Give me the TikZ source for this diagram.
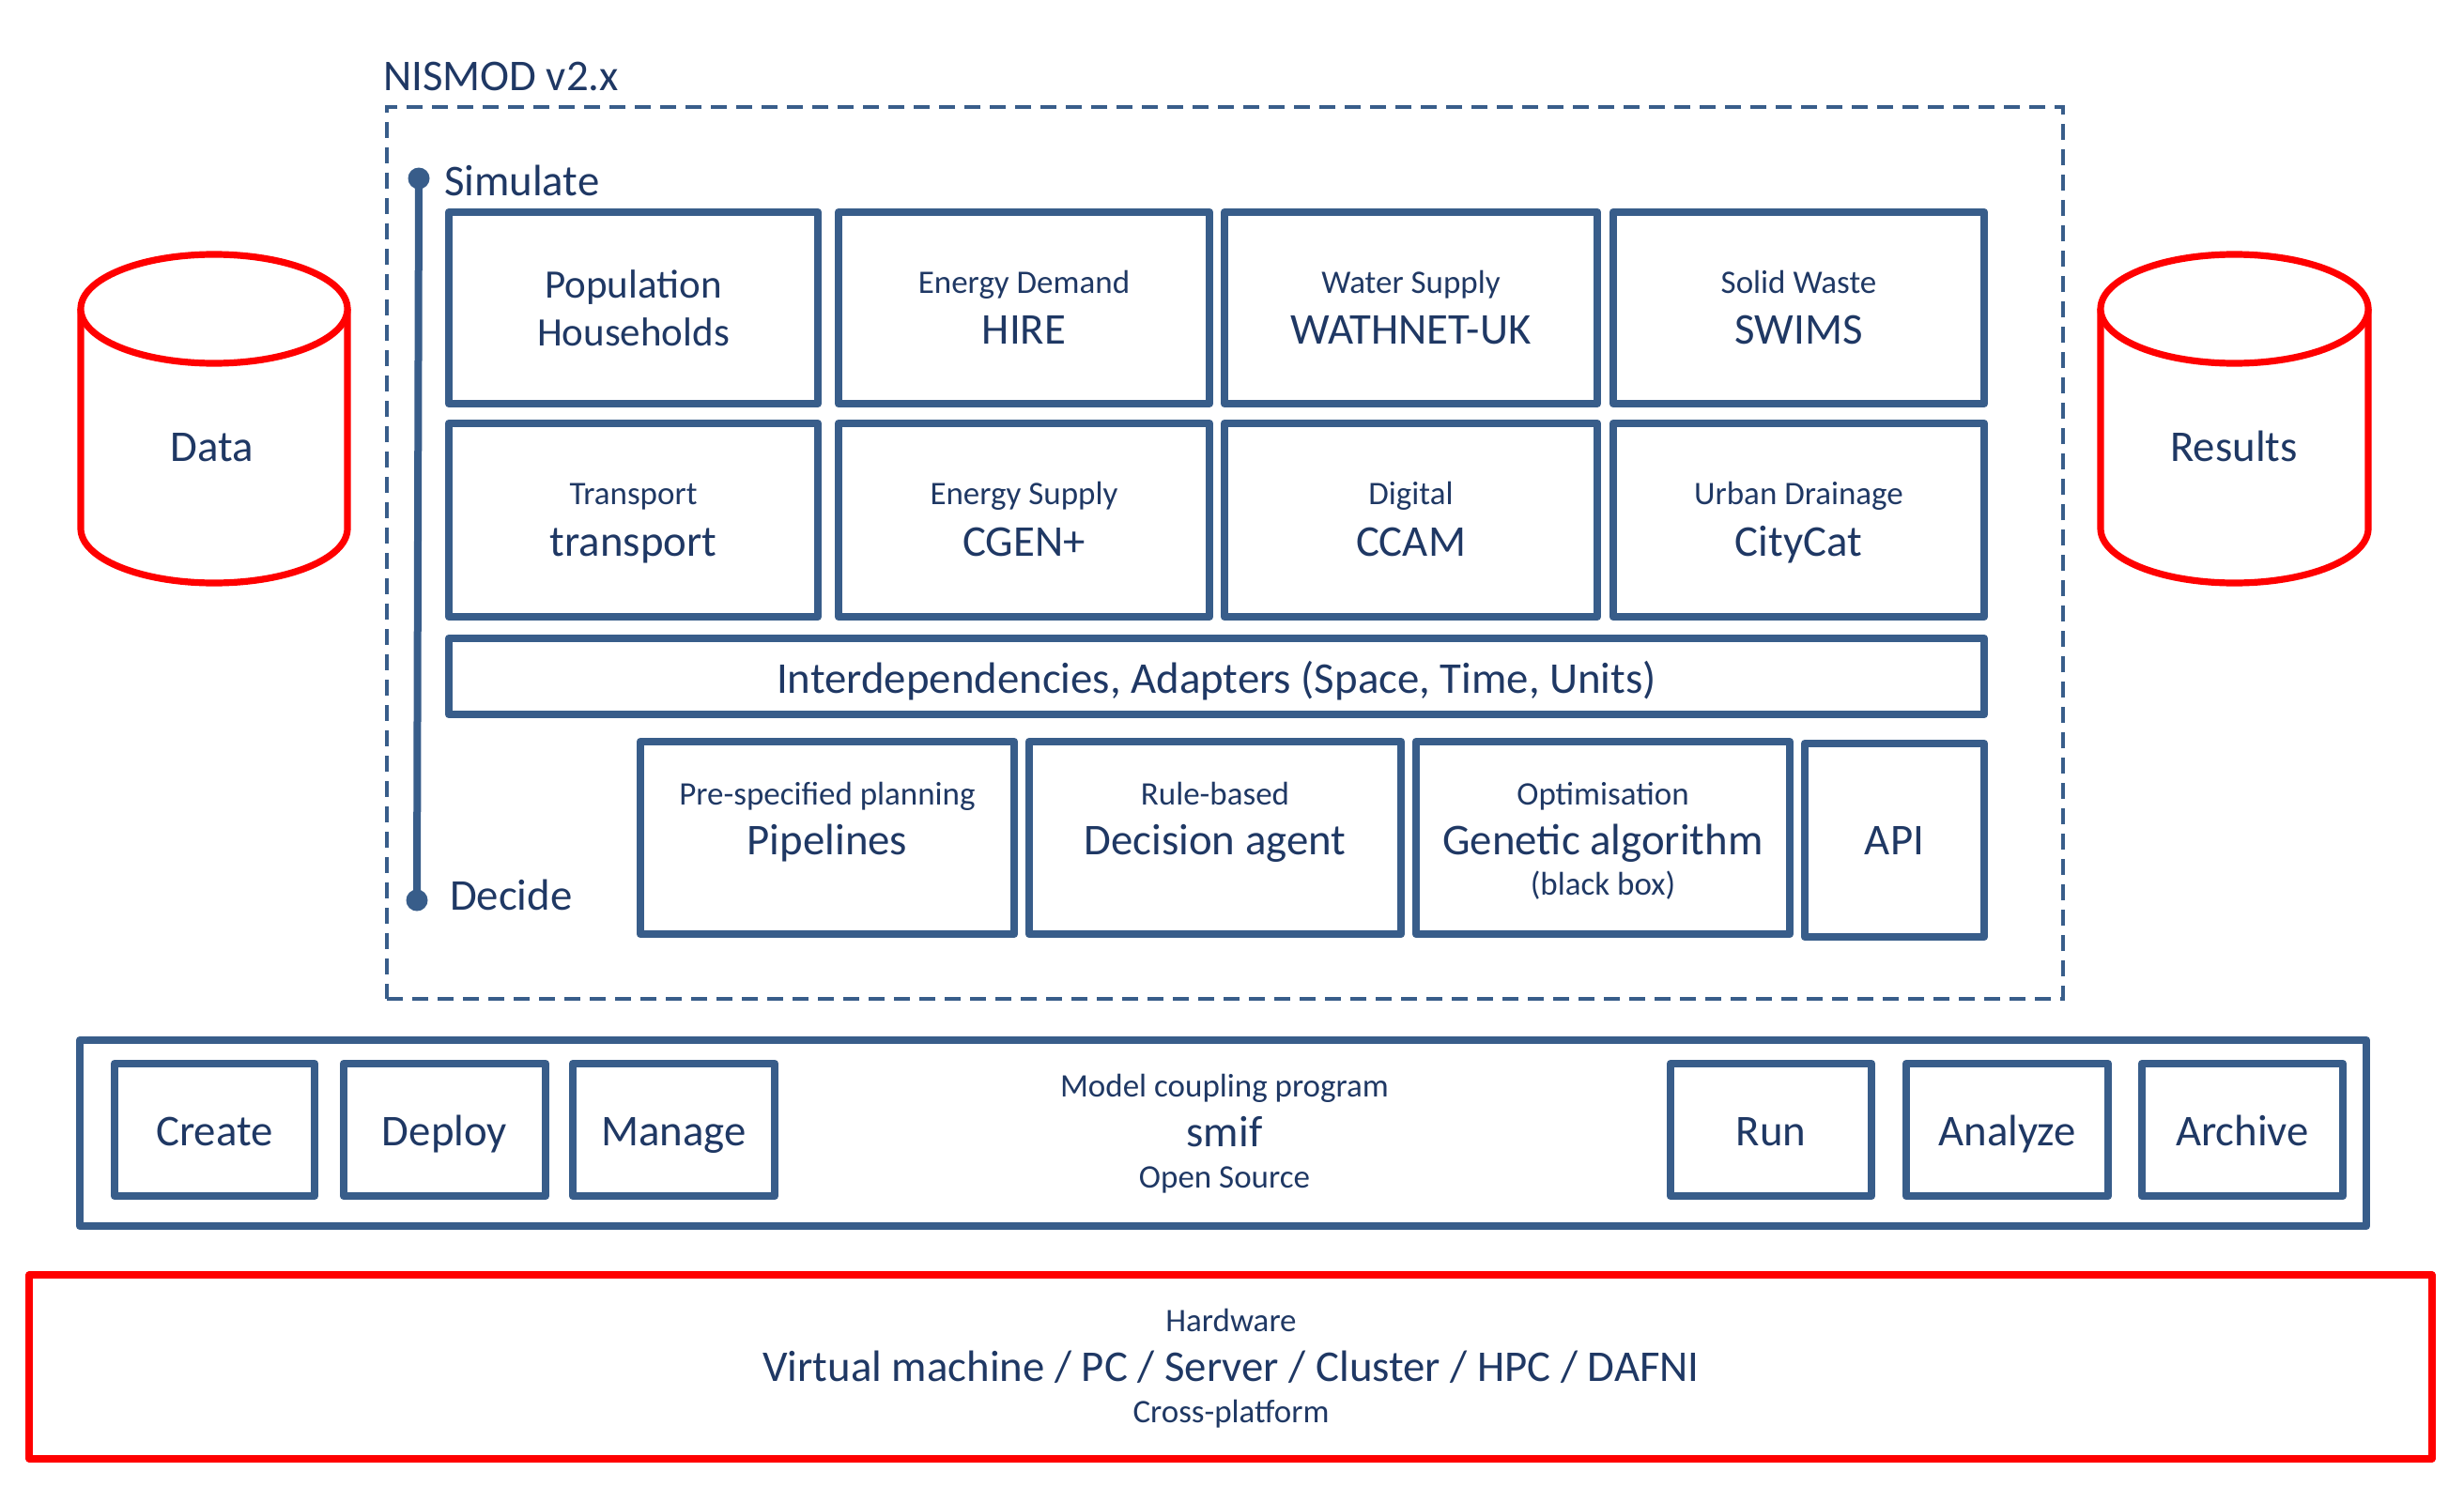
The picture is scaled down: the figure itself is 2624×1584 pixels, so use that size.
\documentclass[tikz,border=0pt]{standalone}
\usepackage{fontspec}
\setmainfont{Carlito}
\usetikzlibrary{fit}
\definecolor{boxblue}{RGB}{56,93,138}
\definecolor{txtblue}{RGB}{31,56,100}
\definecolor{cylred}{RGB}{255,0,0}
\tikzset{
  box/.style={draw=boxblue, line width=4.2pt, line join=round, inner sep=0pt, outer sep=0pt},
  redbox/.style={draw=cylred, line width=3.6pt, line join=round, inner sep=0pt, outer sep=0pt},
  frame/.style={draw=boxblue, line width=2pt, dash pattern=on 8.5pt off 5pt, inner sep=0pt, outer sep=0pt},
  cyl/.style={draw=cylred, line width=3.6pt, fill=white},
  txt/.style={text=txtblue, inner sep=0pt, outer sep=0pt, anchor=base},
  big/.style={txt, font=\fontsize{23.4}{28}\selectfont},
  pop/.style={txt, font=\fontsize{21.5}{26}\selectfont},
  small/.style={txt, font=\fontsize{17.5}{21}\selectfont},
  huge/.style={txt, font=\fontsize{23.4}{28}\selectfont},
  tick/.style={circle, fill=boxblue, inner sep=0pt, minimum size=11.5pt},
}
\begin{document}
\begin{tikzpicture}[x=0.5pt, y=-0.5pt]
\useasboundingbox (0,0) rectangle (2624,1584);

% NISMOD frame
\node[frame, fit={(412,114) (2197,1064)}] (nismod) {};
\node[big, anchor=base west] (nismodlbl) at (408,97) {NISMOD v2.x};

% Simulate / Decide axis
\node[tick] (simdot) at (446,190) {};
\node[tick] (decdot) at (444,959) {};
\draw[boxblue, line width=4pt] (simdot.center) -- (decdot.center);
\node[big, anchor=base west] (simlbl) at (473,208) {Simulate};
\node[big, anchor=base west] (declbl) at (479,969) {Decide};

% Row 1
\node[box, fit={(478,226) (871,430)}] (b11) {};
\node[box, fit={(893,226) (1288,430)}] (b12) {};
\node[box, fit={(1304,226) (1701,430)}] (b13) {};
\node[box, fit={(1718,226) (2113,430)}] (b14) {};
\node[pop] (t11a) at (674.5,317) {Population};
\node[pop] (t11b) at (674.5,368) {Households};
\node[small] (t12a) at (1090.5,312) {Energy Demand};
\node[big] (t12b) at (1090.5,366) {HIRE};
\node[small] (t13a) at (1502.5,312) {Water Supply};
\node[big] (t13b) at (1502.5,366) {WATHNET-UK};
\node[small] (t14a) at (1915.5,312) {Solid Waste};
\node[big] (t14b) at (1915.5,366) {SWIMS};

% Row 2
\node[box, fit={(478,451) (871,657)}] (b21) {};
\node[box, fit={(893,451) (1288,657)}] (b22) {};
\node[box, fit={(1304,451) (1701,657)}] (b23) {};
\node[box, fit={(1718,451) (2113,657)}] (b24) {};
\node[small] (t21a) at (674.5,537) {Transport};
\node[big] (t21b) at (674.5,592) {transport};
\node[small] (t22a) at (1090.5,537) {Energy Supply};
\node[big] (t22b) at (1090.5,592) {CGEN+};
\node[small] (t23a) at (1502.5,537) {Digital};
\node[big] (t23b) at (1502.5,592) {CCAM};
\node[small] (t24a) at (1915.5,537) {Urban Drainage};
\node[big] (t24b) at (1915.5,592) {CityCat};

% Interdependencies
\node[box, fit={(478,680) (2113,761)}] (inter) {};
\node[big] (intert) at (1295.5,738) {Interdependencies, Adapters (Space, Time, Units)};

% Row 4 (decision)
\node[box, fit={(682,790) (1080,995)}] (b41) {};
\node[box, fit={(1096,790) (1492,995)}] (b42) {};
\node[box, fit={(1508,790) (1906,995)}] (b43) {};
\node[box, fit={(1922,792) (2113,998)}] (b44) {};
\node[small] (t41a) at (881,857) {Pre-specified planning};
\node[big] (t41b) at (881,910) {Pipelines};
\node[small] (t42a) at (1294,857) {Rule-based};
\node[big] (t42b) at (1294,910) {Decision agent};
\node[small] (t43a) at (1707,857) {Optimisation};
\node[big] (t43b) at (1707,910) {Genetic algorithm};
\node[small] (t43c) at (1707,953) {(black box)};
\node[big] (t44) at (2017.5,910) {API};

% Data cylinder
\draw[cyl] (86,329) -- (86,563) arc[start angle=180, end angle=0, x radius=142, y radius=58] -- (370,329);
\draw[cyl] (228,329) ellipse [x radius=142, y radius=58];
\node[big] (data) at (226,491) {Data};

% Results cylinder
\draw[cyl] (2237,329) -- (2237,563) arc[start angle=180, end angle=0, x radius=142.5, y radius=58] -- (2522,329);
\draw[cyl] (2379.5,329) ellipse [x radius=142.5, y radius=58];
\node[big] (results) at (2379,491) {Results};

% smif bar
\node[box, fit={(85,1108) (2520,1306)}] (smif) {};
\node[box, fit={(122,1133) (335,1274)}] (create) {};
\node[box, fit={(366,1133) (581,1274)}] (deploy) {};
\node[box, fit={(610,1133) (825,1274)}] (manage) {};
\node[box, fit={(1779,1133) (1993,1274)}] (run) {};
\node[box, fit={(2030,1133) (2245,1274)}] (analyze) {};
\node[box, fit={(2281,1133) (2495,1274)}] (archive) {};
\node[big] (createt) at (228.5,1220) {Create};
\node[big] (deployt) at (473.5,1220) {Deploy};
\node[big] (managet) at (717.5,1220) {Manage};
\node[big] (runt) at (1886,1220) {Run};
\node[big] (analyzet) at (2137.5,1220) {Analyze};
\node[big] (archivet) at (2388,1220) {Archive};
\node[small] (smifa) at (1304,1168) {Model coupling program};
\node[big] (smifb) at (1304,1221) {smif};
\node[small] (smifc) at (1304,1265) {Open Source};

% Hardware
\node[redbox, fit={(31,1358) (2590,1554)}] (hw) {};
\node[small] (hwa) at (1311,1418) {Hardware};
\node[huge] (hwb) at (1311,1471) {Virtual machine / PC / Server / Cluster / HPC / DAFNI};
\node[small] (hwc) at (1311,1515) {Cross-platform};
\end{tikzpicture}
\end{document}
